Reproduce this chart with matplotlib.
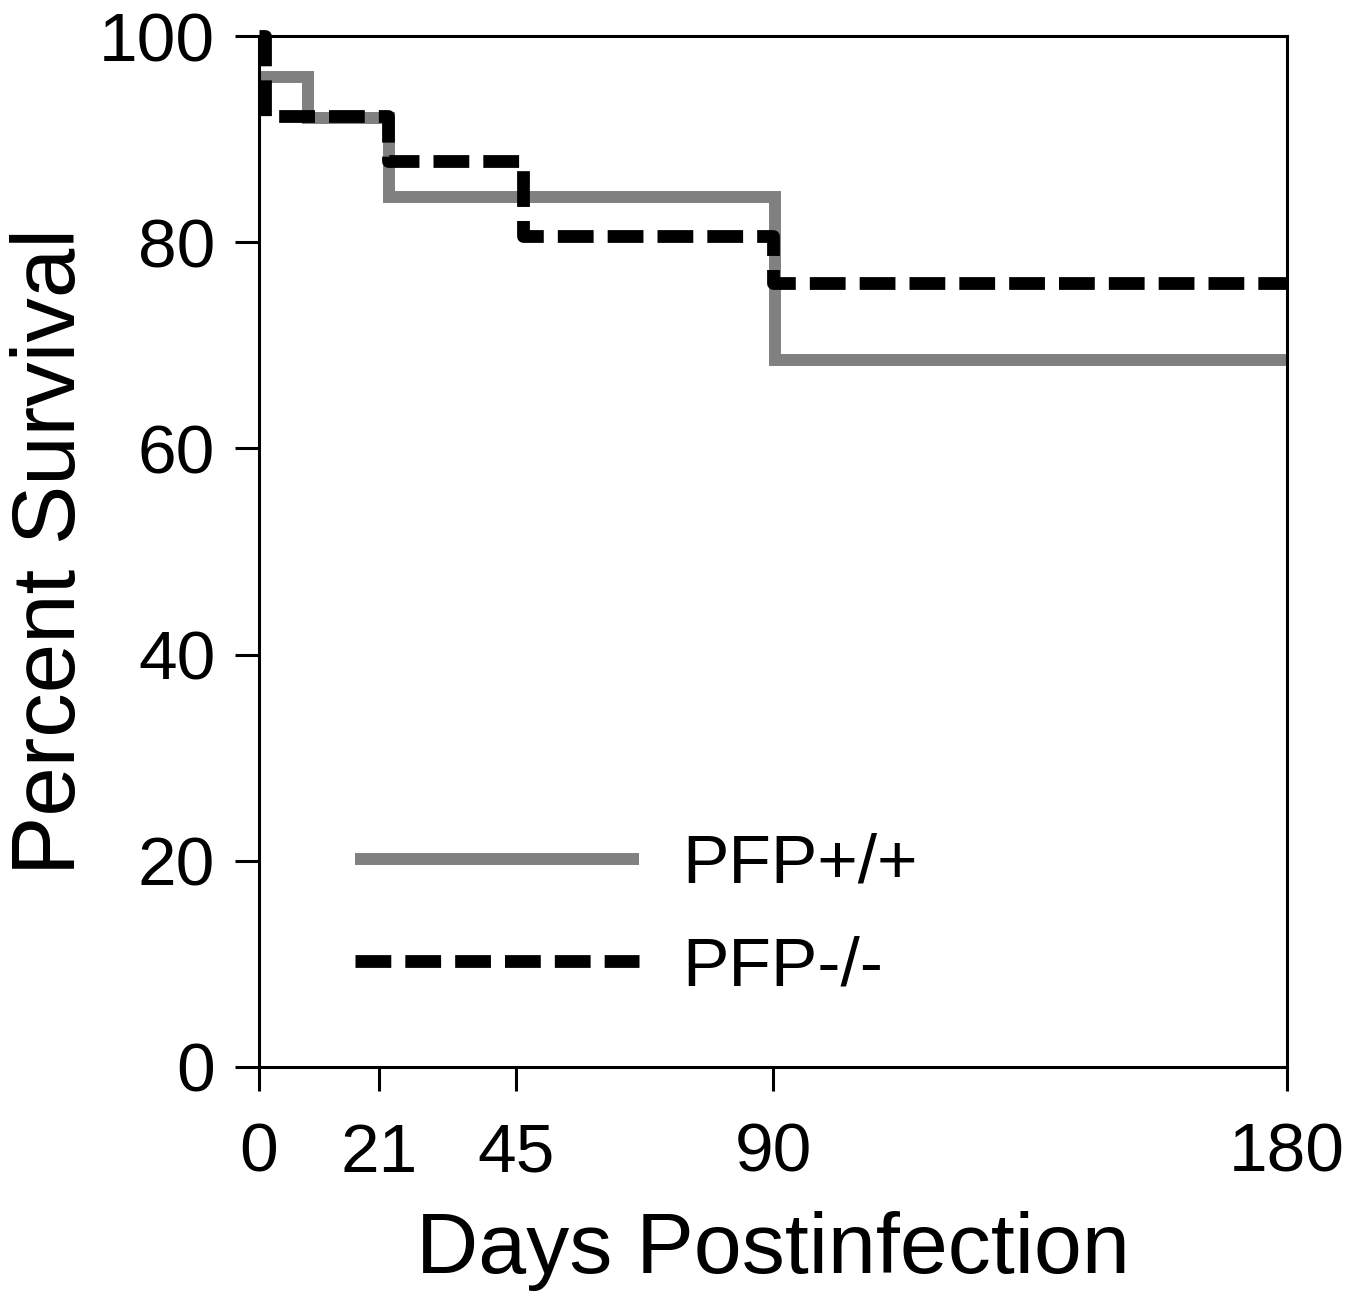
import matplotlib
matplotlib.use("Agg")
import matplotlib.pyplot as plt

plt.rcParams['font.family'] = ['Liberation Sans', 'DejaVu Sans']

# Kaplan-Meier style survival data
wt_days = [0, 8.6, 22.7, 90.4, 180]
wt_surv = [96.0, 92.0, 84.4, 68.6, 68.6]
ko_days = [0, 1.0, 22.6, 46.2, 90.0, 180]
ko_surv = [100.0, 92.2, 87.9, 80.6, 76.0, 76.0]

x_ticks = [0, 21, 45, 90, 180]
y_ticks = [0, 20, 40, 60, 80, 100]
labels = ["PFP+/+", "PFP-/-"]

fig = plt.figure(figsize=(13.59, 12.95), dpi=100)
ax = fig.add_axes([259 / 1359, 1 - 1067 / 1295, (1287 - 259) / 1359, (1067 - 36) / 1295])

ax.step(wt_days, wt_surv, where='post', color='#808080', linewidth=8.6,
        solid_capstyle='butt', solid_joinstyle='miter', clip_on=False, label=labels[0])
ax.step(ko_days, ko_surv, where='post', color='black', linewidth=9.2,
        linestyle=(0, (2.8, 1.1)), dash_capstyle='butt', clip_on=False, label=labels[1])

ax.set_xlim(0, 180)
ax.set_ylim(0, 100)
ax.set_xticks(x_ticks)
ax.set_yticks(y_ticks)

for s in ax.spines.values():
    s.set_linewidth(2.2)
ax.tick_params(axis='both', direction='out', length=17.5, width=2.2,
               labelsize=50)
ax.tick_params(axis='x', pad=22)
ax.tick_params(axis='y', pad=14)

ax.set_xlabel("Days Postinfection", fontsize=62, labelpad=18)
ax.set_ylabel("Percent Survival", fontsize=64, labelpad=4)

leg = ax.legend(loc='upper left', bbox_to_anchor=(0.066, 0.254), frameon=False,
                fontsize=50, handlelength=4.1, handletextpad=0.62,
                labelspacing=0.56, borderaxespad=0)

fig.savefig("out.png", dpi=100)
